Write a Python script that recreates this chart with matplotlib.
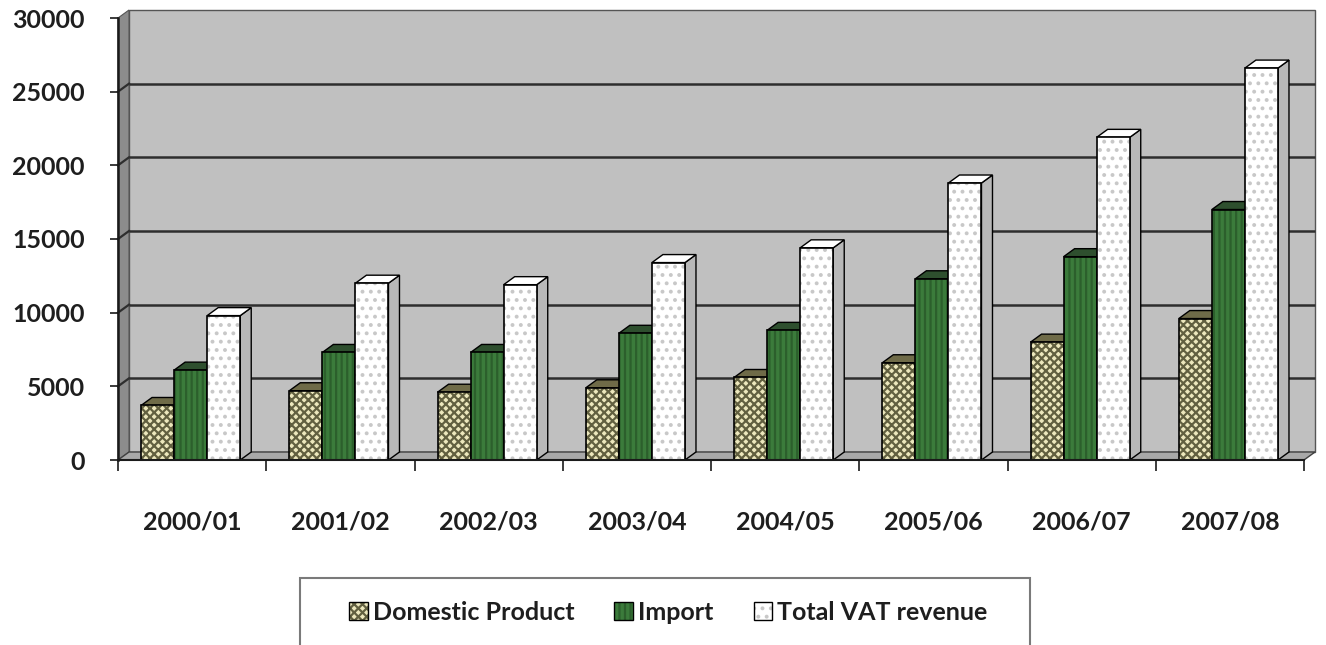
import matplotlib
matplotlib.use("Agg")
import matplotlib.pyplot as plt
from matplotlib.patches import Polygon, Rectangle, Patch

# ---- data -------------------------------------------------------------
years = ["2000/01", "2001/02", "2002/03", "2003/04",
         "2004/05", "2005/06", "2006/07", "2007/08"]
domestic = [3700, 4700, 4600, 4900, 5600, 6600, 8000, 9600]
imports = [6100, 7300, 7300, 8600, 8800, 12300, 13800, 17000]
total_vat = [9800, 12000, 11900, 13400, 14400, 18800, 21900, 26600]
series_names = ["Domestic Product", "Import", "Total VAT revenue"]
y_ticks = [0, 5000, 10000, 15000, 20000, 25000, 30000]

# ---- style ------------------------------------------------------------
plt.rcParams['font.family'] = ['Lato', 'DejaVu Sans']
plt.rcParams['hatch.linewidth'] = 1.6
TEXT = '#1e1e1e'
FS = 18

# face colour, hatch, hatch colour, top-face colour, side-face colour
styles = [
    ('#ece7bc', 'xxxx', '#626040', '#6f6b48', '#5f5c3c'),
    ('#3b7b3b', '|||', '#2c5f2c', '#2e4f2e', '#264426'),
    ('#ffffff', '..', '#c8c8c8', '#ffffff', '#b8b8b8'),
]

W, H = 1326, 645
fig = plt.figure(figsize=(W / 100, H / 100), dpi=100)
fig.patch.set_facecolor('white')
ax = fig.add_axes([118 / W, (H - 460) / H, (1304 - 118) / W, (460 - 18) / H])
ax.set_xlim(-0.5, len(years) - 0.5)
ax.set_ylim(y_ticks[0], y_ticks[-1])
ax.patch.set_visible(False)

# pixel depth of the pseudo-3D box, converted to data units
DX_PX, DY_PX = 11, 8
p0 = ax.transData.transform((0, 0))
q = ax.transData.inverted().transform((p0[0] + DX_PX, p0[1] + DY_PX))
dx, dy = q[0], q[1]

x_lo, x_hi = -0.5, len(years) - 0.5
y_top = y_ticks[-1]

# back wall, left wall and floor
ax.add_patch(Rectangle((x_lo + dx, dy), x_hi - x_lo, y_top, facecolor='#c0c0c0',
                       edgecolor='#555555', lw=1.0, clip_on=False, zorder=0.2))
ax.add_patch(Polygon([(x_lo, 0), (x_lo, y_top), (x_lo + dx, y_top + dy), (x_lo + dx, dy)],
                     closed=True, facecolor='#8c8c8c', edgecolor='#555555', lw=0.8,
                     clip_on=False, zorder=0.3))
ax.add_patch(Polygon([(x_lo, 0), (x_hi, 0), (x_hi + dx, dy), (x_lo + dx, dy)],
                     closed=True, facecolor='#a8a8a8', edgecolor='#404040', lw=1.0,
                     clip_on=False, zorder=0.3))

# gridlines on the back wall and their continuation on the side wall
for v in y_ticks[1:-1]:
    ax.plot([x_lo + dx, x_hi + dx], [v + dy, v + dy], color='#2e2e2e', lw=1.8,
            solid_capstyle='butt', clip_on=False, zorder=0.6)
    ax.plot([x_lo, x_lo + dx], [v, v + dy], color='#2e2e2e', lw=1.6,
            clip_on=False, zorder=0.6)

# bars with front, side and top faces
width = 0.223
offsets = [-width - 0.01, -0.01, width - 0.01]
for k, (vals, st) in enumerate(zip([domestic, imports, total_vat], styles)):
    face, hatch, hcol, topc, sidec = st
    z = 2 + k
    xs = [j + offsets[k] for j in range(len(years))]
    for xc, h in zip(xs, vals):
        x0, x1 = xc - width / 2, xc + width / 2
        ax.add_patch(Polygon([(x1, 0), (x1, h), (x1 + dx, h + dy), (x1 + dx, dy)],
                             closed=True, facecolor=sidec, edgecolor='black', lw=1.0,
                             clip_on=False, zorder=z))
        ax.add_patch(Polygon([(x0, h), (x1, h), (x1 + dx, h + dy), (x0 + dx, h + dy)],
                             closed=True, facecolor=topc, edgecolor='black', lw=1.0,
                             clip_on=False, zorder=z))
    ax.bar(xs, vals, width=width, color=face, hatch=hatch, edgecolor=hcol,
           linewidth=0, zorder=z)
    ax.bar(xs, vals, width=width, fill=False, edgecolor='black', linewidth=1.2,
           zorder=z)

# axes lines and ticks
for s in ('top', 'right'):
    ax.spines[s].set_visible(False)
ax.spines['left'].set_linewidth(1.8)
ax.spines['left'].set_color('#1a1a1a')
ax.spines['bottom'].set_linewidth(1.5)
ax.spines['bottom'].set_color('#1a1a1a')
ax.spines['left'].set_zorder(6)
ax.spines['bottom'].set_zorder(6)

ax.set_yticks(y_ticks)
ax.set_yticklabels([str(v) for v in y_ticks])
ax.tick_params(axis='y', direction='out', length=6, width=1.2, color='#1a1a1a',
               pad=18, labelsize=FS, labelcolor=TEXT)
ax.set_xticks(range(len(years)))
ax.set_xticklabels(years)
ax.set_xticks([j - 0.5 for j in range(len(years) + 1)], minor=True)
ax.tick_params(axis='x', which='major', length=0, pad=36, labelsize=FS, labelcolor=TEXT)
ax.tick_params(axis='x', which='minor', direction='out', length=8, width=1.2,
               color='#1a1a1a')
for lab in ax.get_xticklabels() + ax.get_yticklabels():
    lab.set_fontweight('bold')

# legend
handles = []
for face, hatch, hcol, topc, sidec in styles:
    handles.append((Patch(facecolor=face, hatch=hatch, edgecolor=hcol, linewidth=0),
                    Patch(facecolor='none', edgecolor='black', linewidth=1.0)))
leg = fig.legend(handles, series_names, loc='center', bbox_to_anchor=(0.504, 0.051),
                 ncol=3, frameon=False, fontsize=FS, handlelength=0.75,
                 handleheight=0.75, handletextpad=0.2, columnspacing=1.6)
for t in leg.get_texts():
    t.set_fontweight('bold')
    t.set_color(TEXT)
fig.patches.append(Rectangle((300 / W, -0.05), 730 / W, 0.05 + (H - 578) / H,
                             transform=fig.transFigure, facecolor='none',
                             edgecolor='#7a7a7a', lw=1.5))

fig.savefig('out.png', dpi=100, facecolor='white')
